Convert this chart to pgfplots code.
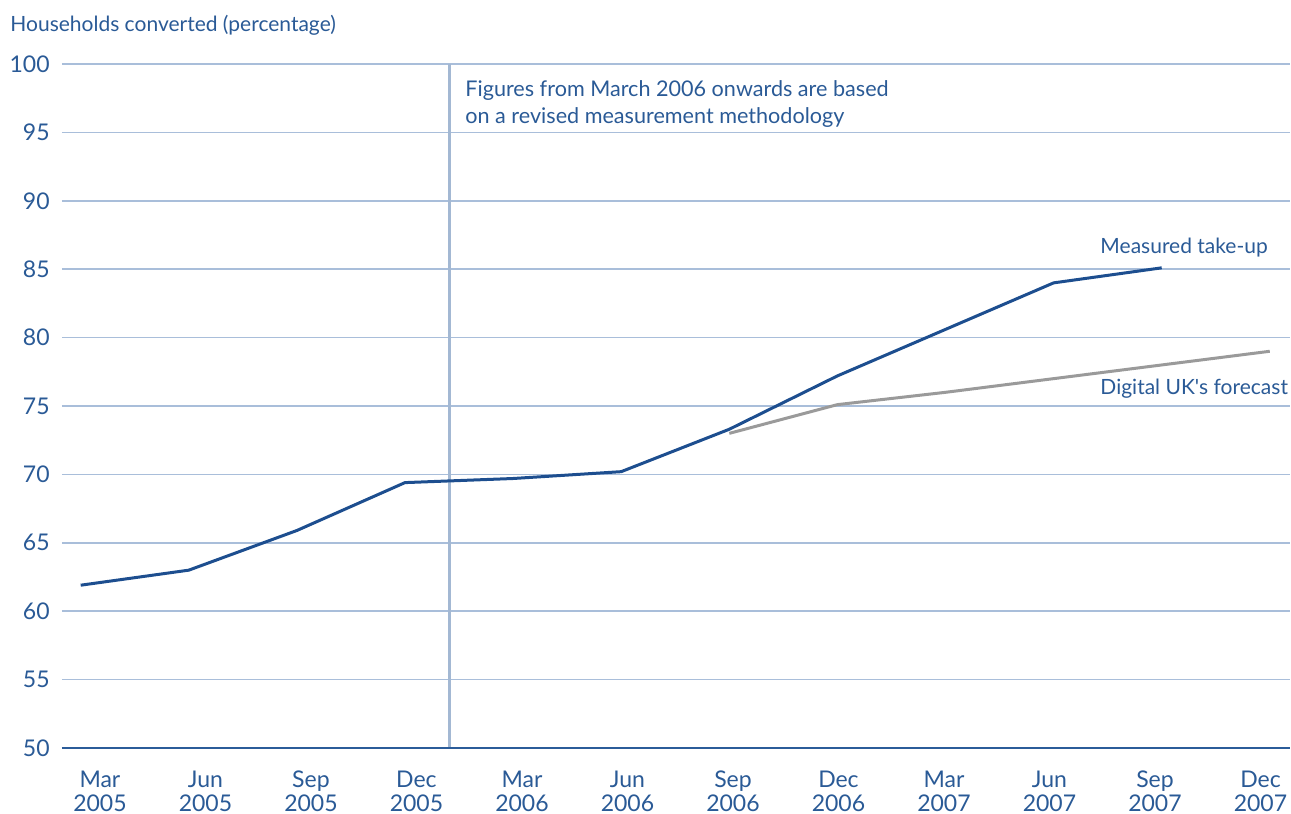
\documentclass[border=0pt]{standalone}
\usepackage{pgfplots}
\pgfplotsset{compat=1.18}
\usepackage{fontspec}
\setmainfont{Lato}
\definecolor{txtblue}{HTML}{2A5A96}
\definecolor{lineblue}{HTML}{1D4E8F}
\definecolor{gridblue}{HTML}{A9BEDA}
\definecolor{vlineblue}{HTML}{A3B8D3}
\definecolor{axisblue}{HTML}{2B5C99}
\definecolor{fgray}{HTML}{9A9A9A}

\begin{document}
\begin{tikzpicture}
\useasboundingbox (0pt,0pt) rectangle (645.5pt,407pt);
\begin{axis}[
  at={(31pt,33pt)}, anchor=south west,
  scale only axis, width=614pt, height=342pt,
  xmin=-0.173, xmax=11.187, ymin=50, ymax=100,
  axis line style={draw=none},
  major tick length=0pt,
  ytick={50,55,...,100},
  ymajorgrids,
  grid style={gridblue, line width=0.75pt},
  /pgf/number format/assume math mode=true,
  xtick={0.178,1.154,2.130,3.106,4.082,5.058,6.034,7.010,7.986,8.962,9.938,10.914},
  xticklabels={{\strut Mar\\2005},{\strut Jun\\2005},{\strut Sep\\2005},{\strut Dec\\2005},{\strut Mar\\2006},{\strut Jun\\2006},{\strut Sep\\2006},{\strut Dec\\2006},{\strut Mar\\2007},{\strut Jun\\2007},{\strut Sep\\2007},{\strut Dec\\2007}},
  xticklabel style={align=center, anchor=north, inner sep=0pt, yshift=-11pt, font=\fontsize{11.5}{12}\selectfont, text=txtblue},
  yticklabel style={anchor=east, inner sep=0pt, xshift=-6pt, font=\fontsize{11.5}{12}\selectfont, text=txtblue},
  clip=false,
]
\addplot[vlineblue, line width=1.5pt] coordinates {(3.416,50) (3.416,100)};
\addplot[axisblue, line width=1pt] coordinates {(-0.173,50) (11.187,50)};
\addplot[fgray, line width=1.5pt] coordinates {
  (6,73.0) (7,75.1) (8,76.0) (9,77.0) (10,78.0) (11,79.0)};
\addplot[lineblue, line width=1.5pt] coordinates {
  (0,61.9) (1,63.0) (2,65.9) (3,69.4) (4,69.7) (5,70.2) (6,73.3) (7,77.2) (8,80.6) (9,84.0) (10,85.1)};
\node[anchor=west, align=left, inner sep=0pt, text=txtblue, font=\fontsize{10.8}{13.5}\selectfont] at (axis cs:3.555,97.1)
  {Figures from March 2006 onwards are based\\on a revised measurement methodology};
\node[anchor=west, inner sep=0pt, text=txtblue, font=\fontsize{10.5}{13}\selectfont] at (axis cs:9.43,86.6) {Measured take-up};
\node[anchor=west, inner sep=0pt, text=txtblue, font=\fontsize{10.5}{13}\selectfont] at (axis cs:9.43,76.3) {Digital UK\textquotesingle s forecast};
\end{axis}
\node[anchor=west, inner sep=0pt, text=txtblue, font=\fontsize{10.5}{13}\selectfont] at (5pt,394.5pt) {Households converted (percentage)};
\end{tikzpicture}
\end{document}
